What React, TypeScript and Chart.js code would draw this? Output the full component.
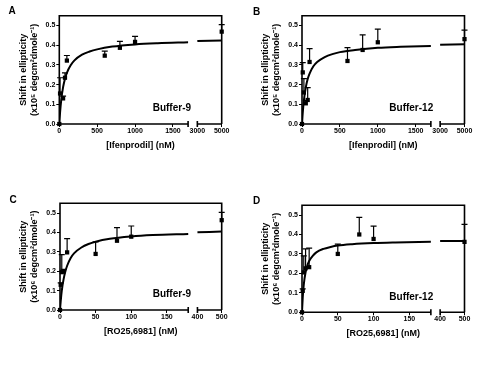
import React, { useEffect, useRef } from 'react';
import { Chart, registerables, LinearScale } from 'chart.js';

Chart.register(...registerables);

// ---------- axis ticks ----------
const ticksIfen = [0, 500, 1000, 1500, 3000, 5000];
const ticksRO = [0, 50, 100, 150, 400, 500];
const yTicks = [0, 0.1, 0.2, 0.3, 0.4, 0.5];
// broken axis ranges: [seg1 start, seg1 end, seg2 start, seg2 end]
const brkIfen = [0, 1700, 3000, 5000];
const brkRO = [0, 180, 400, 500];

// ---------- Panel A : Ifenprodil, Buffer-9 ----------
const doseA = [0, 10, 50, 75, 100, 600, 800, 1000, 5000];
const shiftA = [0, 0.155, 0.13, 0.235, 0.322, 0.347, 0.387, 0.417, 0.469];
const errA = [0, 0.08, 0.012, 0.025, 0.026, 0.023, 0.033, 0.028, 0.036];

// ---------- Panel B : Ifenprodil, Buffer-12 ----------
const doseB = [0, 10, 25, 50, 75, 100, 600, 800, 1000, 5000];
const shiftB = [0, 0.262, 0.16, 0.105, 0.122, 0.315, 0.32, 0.376, 0.415, 0.431];
const errB = [0, 0.05, 0.07, 0.015, 0.063, 0.068, 0.068, 0.077, 0.067, 0.046];

// ---------- Panel C : RO25,6981, Buffer-9 ----------
const doseC = [0, 1, 2.5, 5, 10, 50, 80, 100, 500];
const shiftC = [0, 0.13, 0.195, 0.2, 0.297, 0.289, 0.357, 0.378, 0.463];
const errC = [0, 0.01, 0.09, 0.01, 0.071, 0.062, 0.068, 0.055, 0.04];

// ---------- Panel D : RO25,6981, Buffer-12 ----------
const doseD = [0, 1, 2.5, 5, 10, 50, 80, 100, 500];
const shiftD = [0, 0.11, 0.205, 0.226, 0.232, 0.3, 0.4, 0.377, 0.362];
const errD = [0, 0.01, 0.085, 0.1, 0.098, 0.05, 0.088, 0.066, 0.09];

// ---------- fitted curves ----------
const fitXIfen = [0, 10, 25, 50, 75, 100, 150, 200, 300, 400, 500, 700, 1000, 1300, 1700, 3000, 5000];
const fitYA = [0, 0.057, 0.12, 0.187, 0.23, 0.26, 0.298, 0.323, 0.352, 0.368, 0.379, 0.393, 0.404, 0.41, 0.415, 0.421, 0.424];
const fitYB = [0, 0.058, 0.12, 0.186, 0.228, 0.256, 0.293, 0.315, 0.34, 0.355, 0.365, 0.376, 0.387, 0.392, 0.396, 0.402, 0.405];
const fitXRO = [0, 1, 2.5, 5, 7.5, 10, 15, 20, 30, 40, 50, 70, 100, 130, 180, 400, 500];
const fitYC = [0, 0.046, 0.1, 0.158, 0.198, 0.228, 0.268, 0.293, 0.322, 0.34, 0.352, 0.367, 0.379, 0.386, 0.392, 0.401, 0.404];
const fitYD = [0, 0.074, 0.143, 0.206, 0.241, 0.264, 0.29, 0.308, 0.326, 0.336, 0.343, 0.35, 0.356, 0.359, 0.362, 0.366, 0.367];

const FONT = '"Liberation Sans", Arial, Helvetica, sans-serif';
const SEG1_FRAC = 0.793;
const SEG2_FRAC = 0.85;

class BrokenLinearScale extends LinearScale {
  static id = 'brokenLinear';
  static defaults = (LinearScale as any).defaults;
  _brk() {
    const o: any = this.options;
    return [o.brkA0, o.brkA1, o.brkB0, o.brkB1];
  }
  getPixelForValue(value: any) {
    if (value === null || value === undefined || Number.isNaN(+value)) return NaN;
    const v = +value;
    const [a0, a1, b0, b1] = this._brk();
    let f;
    if (v <= a1) f = ((v - a0) / (a1 - a0)) * SEG1_FRAC;
    else if (v >= b0) f = SEG2_FRAC + ((v - b0) / (b1 - b0)) * (1 - SEG2_FRAC);
    else f = SEG1_FRAC + ((v - a1) / (b0 - a1)) * (SEG2_FRAC - SEG1_FRAC);
    return (this as any).left + f * (this as any).width;
  }
  getValueForPixel(pixel: number) {
    const [a0, a1, b0, b1] = this._brk();
    const f = (pixel - (this as any).left) / (this as any).width;
    if (f <= SEG1_FRAC) return a0 + (f / SEG1_FRAC) * (a1 - a0);
    if (f >= SEG2_FRAC) return b0 + ((f - SEG2_FRAC) / (1 - SEG2_FRAC)) * (b1 - b0);
    return a1 + ((f - SEG1_FRAC) / (SEG2_FRAC - SEG1_FRAC)) * (b0 - a1);
  }
}
Chart.register(BrokenLinearScale as any);

const panels = [
  {
    letter: 'A', dose: doseA, shift: shiftA, err: errA, fitX: fitXIfen, fitY: fitYA,
    xTicks: ticksIfen, brk: brkIfen, xTitle: '[Ifenprodil] (nM)', yUnit: '(x10\u2075 degcm\u00b2dmole\u207b\u00b9)',
    buffer: 'Buffer-9', pos: { x: 0, y: 0, w: 250, h: 185 },
    box: { l: 59.3, r: 221.7, t: 15.7, b: 124 }, letterAt: [12, 11.7], bufAt: [152.7, 108],
  },
  {
    letter: 'B', dose: doseB, shift: shiftB, err: errB, fitX: fitXIfen, fitY: fitYB,
    xTicks: ticksIfen, brk: brkIfen, xTitle: '[Ifenprodil] (nM)', yUnit: '(x10\u2075 degcm\u00b2dmole\u207b\u00b9)',
    buffer: 'Buffer-12', pos: { x: 250, y: 0, w: 250, h: 185 },
    box: { l: 52, r: 214.5, t: 15.7, b: 124 }, letterAt: [6.7, 12.2], bufAt: [139.3, 108.3],
  },
  {
    letter: 'C', dose: doseC, shift: shiftC, err: errC, fitX: fitXRO, fitY: fitYC,
    xTicks: ticksRO, brk: brkRO, xTitle: '[RO25,6981] (nM)', yUnit: '(x10\u2076 degcm\u00b2dmole\u207b\u00b9)',
    buffer: 'Buffer-9', pos: { x: 0, y: 185, w: 250, h: 184 },
    box: { l: 60, r: 221.7, t: 18.3, b: 125 }, letterAt: [13, 15.5], bufAt: [152.7, 109.7],
  },
  {
    letter: 'D', dose: doseD, shift: shiftD, err: errD, fitX: fitXRO, fitY: fitYD,
    xTicks: ticksRO, brk: brkRO, xTitle: '[RO25,6981] (nM)', yUnit: '(x10\u2076 degcm\u00b2dmole\u207b\u00b9)',
    buffer: 'Buffer-12', pos: { x: 250, y: 185, w: 250, h: 184 },
    box: { l: 52, r: 214.5, t: 20.3, b: 127.3 }, letterAt: [6.7, 16.7], bufAt: [139.3, 112],
  },
];

function Panel({ p }: { p: any }) {
  const ref = useRef<HTMLCanvasElement>(null);
  useEffect(() => {
    const canvas = ref.current as HTMLCanvasElement;
    const [a0, a1, b0, b1] = p.brk;
    const HX = 27;
    const { w: W, h: H } = p.pos;
    const B = p.box;
    const fitPts = p.fitX.map((x: number, i: number) => ({ x, y: p.fitY[i] }));
    const seg1 = fitPts.filter((d: any) => d.x <= a1);
    const seg2 = fitPts.filter((d: any) => d.x >= b0);
    const pts = p.dose.map((x: number, i: number) => ({ x, y: p.shift[i] }));

    const overlay = {
      id: 'overlay' + p.letter,
      afterDatasetsDraw(chart: any) {
        const ctx = chart.ctx;
        const xs = chart.scales.x;
        const ys = chart.scales.y;
        ctx.save();
        ctx.strokeStyle = '#000';
        ctx.lineWidth = 1.2;
        p.dose.forEach((d: number, i: number) => {
          const e = p.err[i];
          if (!e) return;
          const x = xs.getPixelForValue(d);
          const y0 = ys.getPixelForValue(p.shift[i]);
          const y1 = ys.getPixelForValue(p.shift[i] + e);
          ctx.beginPath();
          ctx.moveTo(x, y0);
          ctx.lineTo(x, y1);
          ctx.moveTo(x - 3, y1);
          ctx.lineTo(x + 3, y1);
          ctx.stroke();
        });
        ctx.restore();
      },
      afterDraw(chart: any) {
        const ctx = chart.ctx;
        const { left, right, top, bottom } = chart.chartArea;
        const xs = chart.scales.x;
        const pA1 = xs.getPixelForValue(a1);
        const pB0 = xs.getPixelForValue(b0);
        ctx.save();
        ctx.strokeStyle = '#000';
        ctx.lineWidth = 1.6;
        ctx.beginPath();
        ctx.moveTo(left, bottom);
        ctx.lineTo(left, top);
        ctx.lineTo(right, top);
        ctx.lineTo(right, bottom);
        ctx.moveTo(left, bottom);
        ctx.lineTo(pA1, bottom);
        ctx.moveTo(pB0, bottom);
        ctx.lineTo(right, bottom);
        ctx.moveTo(pA1, bottom - 3);
        ctx.lineTo(pA1, bottom + 3);
        ctx.moveTo(pB0, bottom - 3);
        ctx.lineTo(pB0, bottom + 3);
        ctx.stroke();
        ctx.fillStyle = '#000';
        ctx.font = `bold 10px ${FONT}`;
        ctx.textBaseline = 'middle';
        ctx.textAlign = 'center';
        ctx.fillText(p.letter, p.letterAt[0], p.letterAt[1]);
        ctx.textAlign = 'left';
        ctx.fillText(p.buffer, p.bufAt[0], p.bufAt[1]);
        ctx.restore();
      },
    };

    const tickFont = { family: FONT, size: 7, weight: 'bold' as const };
    const titleFont = { family: FONT, size: 9, weight: 'bold' as const };

    const chart = new Chart(canvas, {
      type: 'scatter',
      data: {
        datasets: [
          { type: 'line', data: seg1, borderColor: '#000', borderWidth: 2, pointRadius: 0, cubicInterpolationMode: 'monotone', fill: false } as any,
          { type: 'line', data: seg2, borderColor: '#000', borderWidth: 2, pointRadius: 0, cubicInterpolationMode: 'monotone', fill: false } as any,
          { type: 'scatter', data: pts, pointStyle: 'rect', pointRadius: 3, backgroundColor: '#000', borderColor: '#000', borderWidth: 0, clip: false } as any,
        ],
      },
      options: {
        animation: false,
        responsive: false,
        events: [],
        layout: { padding: { left: 0, top: B.t, right: W - B.r, bottom: H - B.b - HX } },
        plugins: { legend: { display: false }, tooltip: { enabled: false } },
        scales: {
          x: {
            type: 'brokenLinear' as any,
            min: a0, max: b1, bounds: 'data',
            brkA0: a0, brkA1: a1, brkB0: b0, brkB1: b1,
            afterBuildTicks: (s: any) => { s.ticks = p.xTicks.map((v: number) => ({ value: v })); },
            afterFit: (s: any) => { s.height = HX; },
            ticks: { autoSkip: false, maxRotation: 0, minRotation: 0, padding: 0, color: '#000', font: tickFont, callback: (v: any) => String(v) },
            grid: { drawOnChartArea: false, drawTicks: true, tickLength: 3, color: '#000', lineWidth: 1 },
            border: { display: false },
            title: { display: true, text: p.xTitle, color: '#000', font: titleFont, padding: { top: 0, bottom: 0 } },
          } as any,
          y: {
            type: 'linear',
            min: 0, max: 0.55, bounds: 'data',
            afterBuildTicks: (s: any) => { s.ticks = yTicks.map((v) => ({ value: v })); },
            afterFit: (s: any) => { s.width = B.l; },
            ticks: { padding: 1, color: '#000', font: tickFont, callback: (v: any) => Number(v).toFixed(1) },
            grid: { drawOnChartArea: false, drawTicks: true, tickLength: 3, color: '#000', lineWidth: 1 },
            border: { display: false },
            title: { display: true, text: ['Shift in ellipticity', p.yUnit], color: '#000', font: titleFont, padding: { top: B.l - 36 - 5.4, bottom: 0 } },
          } as any,
        },
      },
      plugins: [overlay],
    } as any);
    return () => chart.destroy();
  }, [p]);

  return (
    <canvas
      ref={ref}
      width={p.pos.w}
      height={p.pos.h}
      style={{ position: 'absolute', left: p.pos.x, top: p.pos.y, width: p.pos.w, height: p.pos.h }}
    />
  );
}

export default function App() {
  return (
    <div style={{ position: 'fixed', left: 0, top: 0, width: 500, height: 369, background: '#fff' }}>
      {panels.map((p) => (
        <Panel key={p.letter} p={p} />
      ))}
    </div>
  );
}
